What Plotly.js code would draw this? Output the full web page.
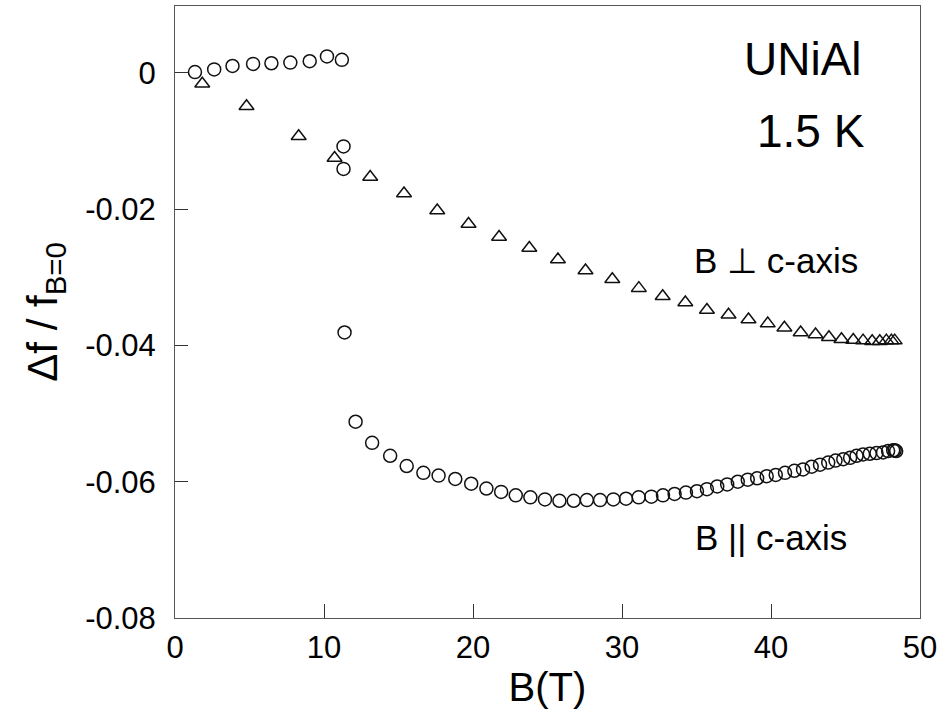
<!DOCTYPE html>
<html>
<head>
<meta charset="utf-8">
<script src="https://cdn.plot.ly/plotly-3.0.1.min.js"></script>
<style>html,body{margin:0;padding:0;background:#fff;}#chart{width:941px;height:720px;}</style>
</head>
<body>
<div id="chart"></div>
<script>
// B || c-axis (open circles)
const paraB = [1.34, 2.63, 3.86, 5.24, 6.47, 7.74, 9.04, 10.2, 11.2, 11.31, 11.31, 11.38,
  12.12, 13.23, 14.44, 15.55, 16.67, 17.69, 18.81, 19.88, 20.9, 21.89, 22.87, 23.85, 24.83,
  25.8, 26.76, 27.64, 28.53, 29.42, 30.27, 31.12, 31.97, 32.75, 33.53, 34.29, 35.03, 35.7,
  36.39, 37.06, 37.77, 38.44, 39.07, 39.71, 40.32, 40.94, 41.57, 42.15, 42.73, 43.29, 43.84,
  44.33, 44.85, 45.31, 45.74, 46.18, 46.63, 47.08, 47.52, 47.86, 48.2, 48.3, 48.4];
const paraDf = [0.0001, 0.0005, 0.0010, 0.0013, 0.0014, 0.0015, 0.0017, 0.0024, 0.0019, -0.0108, -0.0141, -0.0381,
  -0.0512, -0.0543, -0.0562, -0.0577, -0.0587, -0.0591, -0.0596, -0.0603, -0.0610, -0.0615, -0.0620, -0.0623, -0.0626,
  -0.0628, -0.0628, -0.0627, -0.0627, -0.0626, -0.0625, -0.0623, -0.0622, -0.0620, -0.0618, -0.0616, -0.0614, -0.0611,
  -0.0607, -0.0604, -0.0600, -0.0597, -0.0595, -0.0592, -0.0590, -0.0587, -0.0584, -0.0582, -0.0578, -0.0575, -0.0572,
  -0.0569, -0.0567, -0.0565, -0.0562, -0.0560, -0.0559, -0.0558, -0.0557, -0.0555, -0.0554, -0.0554, -0.0555];

// B ⊥ c-axis (open triangles)
const perpB = [1.83, 4.8, 8.3, 10.71, 13.1, 15.37, 17.6, 19.7, 21.75, 23.78, 25.7, 27.55, 29.35, 31.13,
  32.73, 34.25, 35.7, 37.15, 38.49, 39.78, 40.9, 41.99, 42.99, 43.89, 44.73, 45.52, 46.18, 46.79,
  47.3, 47.74, 48.08, 48.3];
const perpDf = [-0.0016, -0.0049, -0.0093, -0.0125, -0.0153, -0.0177, -0.0202, -0.0222, -0.0241, -0.0257, -0.0274, -0.0290, -0.0303, -0.0316,
  -0.0328, -0.0337, -0.0348, -0.0355, -0.0362, -0.0368, -0.0374, -0.0381, -0.0384, -0.0388, -0.0391, -0.0392, -0.0393, -0.0394,
  -0.0394, -0.0393, -0.0393, -0.0393];

const xTicks = [0, 10, 20, 30, 40, 50];
const xTickText = ['0', '10', '20', '30', '40', '50'];
const yTicks = [0, -0.02, -0.04, -0.06, -0.08];
const yTickText = ['0', '-0.02', '-0.04', '-0.06', '-0.08'];

const FONT = 'Liberation Sans, Arial, Helvetica, sans-serif';

const traces = [
  {
    x: paraB, y: paraDf, mode: 'markers', type: 'scatter', name: 'B || c-axis',
    marker: {symbol: 'circle-open', size: 13, color: '#111', line: {width: 1.5, color: '#111'}}
  },
  {
    x: perpB, y: perpDf, mode: 'markers', type: 'scatter', name: 'B ⊥ c-axis',
    marker: {symbol: 'triangle-up-open', size: 13, color: '#111', line: {width: 1.5, color: '#111'}}
  }
];

const layout = {
  width: 941, height: 720,
  margin: {l: 175, r: 21, t: 6, b: 102},
  paper_bgcolor: '#fff', plot_bgcolor: '#fff',
  showlegend: false,
  font: {family: FONT, color: '#000'},
  xaxis: {
    range: [0, 50], tickvals: xTicks, ticktext: xTickText,
    ticks: 'inside', ticklen: 14, tickwidth: 1, tickcolor: '#333',
    showline: true, mirror: true, linecolor: '#555', linewidth: 1,
    showgrid: false, zeroline: false,
    tickfont: {size: 31, family: FONT, color: '#000'},
    ticklabelstandoff: 2,
    title: {text: 'B(T)', font: {size: 40, family: FONT, color: '#000'}, standoff: 8}
  },
  yaxis: {
    range: [-0.08, 0.0098], tickvals: yTicks, ticktext: yTickText,
    ticks: 'inside', ticklen: 13, tickwidth: 1, tickcolor: '#333',
    showline: true, mirror: true, linecolor: '#555', linewidth: 1,
    showgrid: false, zeroline: false,
    tickfont: {size: 31, family: FONT, color: '#000'},
    ticklabelstandoff: 12,
    title: {text: 'Δf / f<sub>B=0</sub>', font: {size: 42, family: FONT, color: '#000'}, standoff: 14}
  },
  annotations: [
    {text: 'UNiAl', xref: 'paper', yref: 'paper', x: 0.925, y: (618 - 59) / 612, xanchor: 'right', yanchor: 'middle', showarrow: false, font: {size: 46, family: FONT, color: '#000'}},
    {text: '1.5 K', xref: 'paper', yref: 'paper', x: 0.929, y: (618 - 131) / 612, xanchor: 'right', yanchor: 'middle', showarrow: false, font: {size: 46, family: FONT, color: '#000'}},
    {text: 'B ⊥ c-axis', xref: 'paper', yref: 'paper', x: (860 - 175) / 745, y: (618 - 260) / 612, xanchor: 'right', yanchor: 'middle', showarrow: false, font: {size: 35, family: FONT, color: '#000'}},
    {text: 'B || c-axis', xref: 'paper', yref: 'paper', x: (849 - 175) / 745, y: (618 - 537) / 612, xanchor: 'right', yanchor: 'middle', showarrow: false, font: {size: 35, family: FONT, color: '#000'}}
  ]
};

Plotly.newPlot('chart', traces, layout, {staticPlot: true, displayModeBar: false});
</script>
</body>
</html>
